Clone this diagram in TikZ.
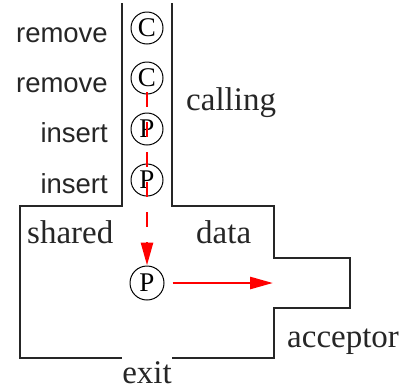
\documentclass[tikz,border=0pt]{standalone}
\usepackage{fontspec}
\setmainfont{Liberation Serif}
\setsansfont{Liberation Sans}
\usetikzlibrary{arrows.meta}
\begin{document}
\begin{tikzpicture}[x=1pt,y=-1pt,
  wall/.style={draw=black!85,line width=1.3pt},
  token/.style={draw=black,line width=1pt,circle,minimum size=32pt,inner sep=0pt,font=\fontsize{27}{27}\selectfont},
  opl/.style={anchor=base east,inner sep=0pt,font=\sffamily\fontsize{27.5}{30}\selectfont,text=black!85},
  area/.style={anchor=base west,inner sep=0pt,font=\fontsize{33}{36}\selectfont,text=black!85},
  flow/.style={draw=red,line width=2.6pt,-{Triangle[length=23pt,width=12pt]}}]
\useasboundingbox (0,0) rectangle (406,389);
% walls
\draw[wall] (122,3) -- (122,206) -- (20,206) -- (20,358) -- (122,358);
\draw[wall] (172,358) -- (274,358) -- (274,308) -- (350,308) -- (350,258) -- (274,258) -- (274,206) -- (172,206) -- (172,3);
% tokens
\node[token] (c1) at (147,28) {C};
\node[token] (c2) at (147,78) {C};
\node[token] (p1) at (147,129) {P};
\node[token] (p2) at (147,180) {P};
\node[token,minimum size=34pt] (pb) at (147,283) {P};
% operation labels
\node[opl] (r1) at (108,42) {remove};
\node[opl] (r2) at (108,92) {remove};
\node[opl] (i1) at (108,142) {insert};
\node[opl] (i2) at (108,193) {insert};
% area labels
\node[area] (calling) at (186,110) {calling};
\node[area] (shared) at (27,243) {shared};
\node[area] (data) at (196,243) {data};
\node[area] (acceptor) at (287,347) {acceptor};
\node[area,anchor=base] (exit) at (147,383) {exit};
% flows
\coordinate (dstart) at (147,92);
\coordinate (acc) at (273,283);
\draw[flow,dash pattern=on 15pt off 15pt] (dstart) -- (pb.north);
\draw[flow,shorten <=8pt] (pb.east) -- (acc);
\end{tikzpicture}
\end{document}
